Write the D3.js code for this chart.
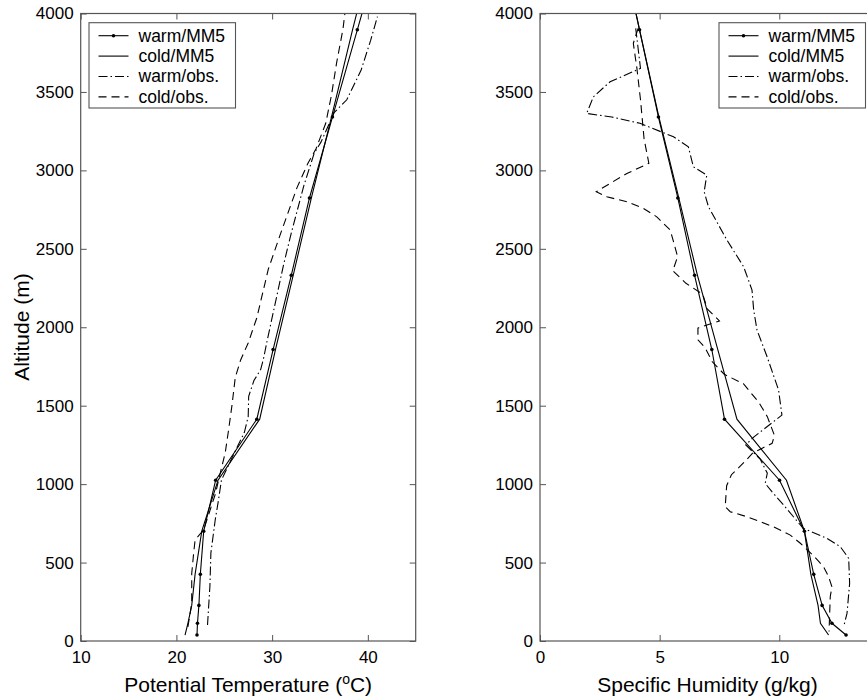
<!DOCTYPE html>
<html>
<head>
<meta charset="utf-8">
<script src="https://cdn.jsdelivr.net/npm/d3@7"></script>
<style>
  body { margin: 0; background: #fff; }
  svg { display: block; font-family: "Liberation Sans", Arial, Helvetica, sans-serif; }
</style>
</head>
<body>
<div id="chart"></div>
<script>
// MM5 model levels (m) - same for warm and cold runs
const mm5Alt = [38, 113, 227, 425, 700, 1025, 1414, 1858, 2331, 2824, 3340, 3896, 4450];
const thetaWarmMM5 = [22.15, 22.2, 22.35, 22.5, 22.85, 24.1, 28.4, 30.1, 32.0, 33.9, 36.3, 38.9, 41.5];
const thetaColdMM5 = [20.9, 21.2, 21.6, 21.95, 22.65, 24.35, 28.7, 30.35, 32.2, 34.1, 36.2, 38.4, 40.7];
const qWarmMM5 = [12.79, 12.2, 11.79, 11.44, 11.05, 10.01, 7.71, 7.18, 6.46, 5.76, 4.95, 4.16, 3.37];
const qColdMM5 = [12.06, 11.72, 11.62, 11.32, 11.05, 10.3, 8.23, 7.43, 6.58, 5.8, 4.97, 4.16, 3.37];

// observed potential temperature profiles
const thetaWarmObsAlt = [102, 350, 560, 770, 900, 1025, 1230, 1330, 1430, 1560, 1660, 1730, 1800, 1920, 2090, 2400, 2600, 2900, 3110, 3180, 3370, 3450, 3640, 3830, 3980];
const thetaWarmObs = [23.25, 23.5, 23.6, 24.05, 24.4, 24.7, 26.3, 27.1, 27.5, 27.55, 28.1, 28.8, 29.1, 29.5, 30.1, 31.2, 32.0, 33.3, 34.4, 35.1, 36.5, 37.8, 39.3, 40.3, 41.0];
const thetaColdObsAlt = [90, 240, 430, 560, 643, 710, 943, 1025, 1200, 1345, 1500, 1680, 1790, 1900, 2060, 2370, 2600, 2890, 3040, 3140, 3300, 3480, 3690, 3900, 4000];
const thetaColdObs = [21.2, 21.6, 21.6, 21.8, 21.95, 22.85, 24.1, 24.4, 25.1, 25.45, 25.8, 26.15, 26.7, 27.5, 28.4, 29.6, 30.9, 32.6, 33.7, 34.6, 35.6, 36.2, 36.75, 37.4, 37.6];

// observed specific humidity profiles
const qWarmObsAlt = [3905, 3650, 3565, 3469, 3363, 3340, 3300, 3214, 3150, 3023, 2970, 2864, 2768, 2556, 2386, 2237, 2110, 1982, 1812, 1600, 1440, 1300, 1250, 1160, 1070, 1005, 950, 867, 718, 654, 601, 527, 367, 176, 91];
const qWarmObs = [4.0, 4.2, 2.93, 2.23, 1.95, 3.0, 4.18, 5.58, 6.2, 6.41, 6.97, 6.86, 7.04, 7.81, 8.51, 8.86, 8.93, 9.07, 9.49, 9.97, 10.11, 8.93, 8.6, 9.2, 9.5, 9.41, 9.7, 10.18, 11.0, 12.0, 12.55, 12.9, 12.94, 12.83, 12.69];
const qColdObsAlt = [3905, 3810, 3650, 3450, 3200, 3045, 2980, 2917, 2864, 2832, 2800, 2758, 2704, 2620, 2535, 2450, 2360, 2280, 2210, 2115, 2040, 1995, 1920, 1870, 1780, 1700, 1640, 1520, 1430, 1310, 1260, 1200, 1150, 1060, 990, 856, 824, 792, 728, 675, 623, 540, 474, 410, 346, 282, 150, 60];
const qColdObs = [4.1, 3.9, 4.05, 4.2, 4.35, 4.55, 3.63, 2.93, 2.35, 2.79, 3.63, 4.32, 4.88, 5.44, 5.6, 5.75, 5.55, 6.1, 6.8, 7.0, 7.5, 6.6, 6.6, 6.9, 7.2, 7.7, 8.5, 9.15, 9.5, 9.8, 9.7, 8.9, 8.6, 8.0, 7.8, 7.74, 7.95, 8.65, 9.76, 10.46, 10.88, 11.45, 11.85, 12.06, 12.2, 12.13, 12.1, 12.08];

const altTicks = [0, 500, 1000, 1500, 2000, 2500, 3000, 3500, 4000];
const thetaTicks = [10, 20, 30, 40];
const qTicks = [0, 5, 10];
const legendLabels = ["warm/MM5", "cold/MM5", "warm/obs.", "cold/obs."];

const W = 867, H = 698;
const frameColor = "#555";

const svg = d3.select("#chart").append("svg")
  .attr("width", W)
  .attr("height", H);

// line styles per series
const styles = [
  { dash: null, marker: true },
  { dash: null, marker: false },
  { dash: "9,3,1.5,3", marker: false },
  { dash: "8,5", marker: false }
];

function drawPanel(opts) {
  const x = d3.scaleLinear().domain(opts.xDomain).range([opts.left, opts.right]);
  const y = d3.scaleLinear().domain([0, 4000]).range([641, 13.5]);

  const g = svg.append("g");

  // clip to plot box
  g.append("clipPath").attr("id", opts.id)
    .append("rect")
    .attr("x", opts.left).attr("y", 13.5)
    .attr("width", opts.right - opts.left).attr("height", 641 - 13.5);

  // axes, ticks pointing inward
  const styleAxis = (sel) => {
    sel.select(".domain").remove();
    sel.selectAll(".tick line").attr("stroke", frameColor);
    sel.selectAll(".tick text")
      .attr("fill", "#000")
      .style("font-size", "17px")
      .style("font-family", "'Liberation Sans', Arial, sans-serif");
  };

  g.append("g").attr("transform", "translate(0,641)")
    .call(d3.axisBottom(x).tickValues(opts.xTicks).tickFormat(d3.format("d")).tickSize(-6).tickPadding(10))
    .call(styleAxis);
  g.append("g").attr("transform", "translate(0,13.5)")
    .call(d3.axisTop(x).tickValues(opts.xTicks).tickSize(-6).tickFormat(""))
    .call(styleAxis);
  g.append("g").attr("transform", `translate(${opts.left},0)`)
    .call(d3.axisLeft(y).tickValues(altTicks).tickFormat(d3.format("d")).tickSize(-6).tickPadding(7))
    .call(styleAxis);
  g.append("g").attr("transform", `translate(${opts.right},0)`)
    .call(d3.axisRight(y).tickValues(altTicks).tickSize(-6).tickFormat(""))
    .call(styleAxis);

  // data lines
  const line = d3.line().x((d) => x(d[0])).y((d) => y(d[1]));
  const plot = g.append("g").attr("clip-path", `url(#${opts.id})`);

  opts.series.forEach((s, i) => {
    const pts = s.vals.map((v, j) => [v, s.alt[j]]);
    plot.append("path")
      .datum(pts)
      .attr("d", line)
      .attr("fill", "none")
      .attr("stroke", "#000")
      .attr("stroke-width", 1.1)
      .attr("stroke-dasharray", styles[i].dash);
    if (styles[i].marker) {
      plot.selectAll("circle.m" + i)
        .data(pts)
        .join("circle")
        .attr("class", "m" + i)
        .attr("cx", (d) => x(d[0]))
        .attr("cy", (d) => y(d[1]))
        .attr("r", 1.8)
        .attr("fill", "#000");
    }
  });

  // frame
  g.append("rect")
    .attr("x", opts.left).attr("y", 13.5)
    .attr("width", opts.right - opts.left).attr("height", 641 - 13.5)
    .attr("fill", "none")
    .attr("stroke", frameColor)
    .attr("stroke-width", 1.2);

  // x label
  const xl = g.append("text")
    .attr("x", (opts.left + opts.right) / 2)
    .attr("y", 692)
    .attr("text-anchor", "middle")
    .style("font-size", "21px");
  opts.xLabel(xl);

  // legend
  const lg = g.append("g").attr("transform", `translate(${opts.legendX},22.7)`);
  lg.append("rect")
    .attr("width", 146.5).attr("height", 85.3)
    .attr("fill", "#fff")
    .attr("stroke", frameColor)
    .attr("stroke-width", 1.1);
  legendLabels.forEach((lab, i) => {
    const cy = 13 + i * 20.4;
    lg.append("line")
      .attr("x1", 9.5).attr("x2", 39.5)
      .attr("y1", cy).attr("y2", cy)
      .attr("stroke", "#000")
      .attr("stroke-width", 1.1)
      .attr("stroke-dasharray", styles[i].dash);
    if (styles[i].marker) {
      lg.append("circle").attr("cx", 24.5).attr("cy", cy).attr("r", 1.8).attr("fill", "#000");
    }
    lg.append("text")
      .attr("x", 49.5)
      .attr("y", cy + 6)
      .style("font-size", "17.5px")
      .text(lab);
  });
}

drawPanel({
  id: "clipL",
  left: 80.7, right: 415.7,
  xDomain: [10, 45],
  xTicks: thetaTicks,
  legendX: 89,
  series: [
    { alt: mm5Alt, vals: thetaWarmMM5 },
    { alt: mm5Alt, vals: thetaColdMM5 },
    { alt: thetaWarmObsAlt, vals: thetaWarmObs },
    { alt: thetaColdObsAlt, vals: thetaColdObs }
  ],
  xLabel: (t) => {
    t.append("tspan").text("Potential Temperature (");
    t.append("tspan").attr("dy", -8).style("font-size", "14px").text("o");
    t.append("tspan").attr("dy", 8).text("C)");
  }
});

drawPanel({
  id: "clipR",
  left: 540, right: 875,
  xDomain: [0, 14],
  xTicks: qTicks,
  legendX: 719,
  series: [
    { alt: mm5Alt, vals: qWarmMM5 },
    { alt: mm5Alt, vals: qColdMM5 },
    { alt: qWarmObsAlt, vals: qWarmObs },
    { alt: qColdObsAlt, vals: qColdObs }
  ],
  xLabel: (t) => t.text("Specific Humidity (g/kg)")
});

// y label (left panel only)
svg.append("text")
  .attr("transform", "translate(29,327) rotate(-90)")
  .attr("text-anchor", "middle")
  .style("font-size", "21px")
  .text("Altitude (m)");
</script>
</body>
</html>
